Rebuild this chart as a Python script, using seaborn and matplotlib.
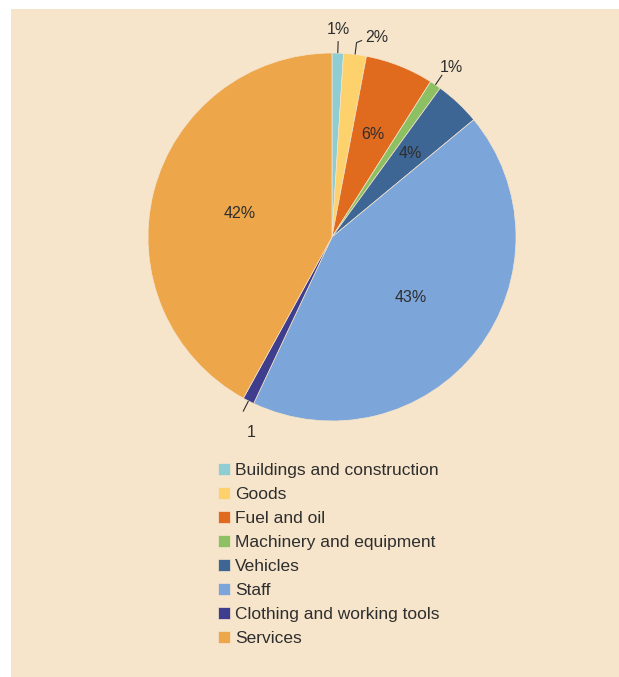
import numpy as np
import matplotlib
matplotlib.use("Agg")
import matplotlib.pyplot as plt
from matplotlib.patches import Rectangle
import seaborn as sns

# Budget shares by spending category (percent)
categories = [
    "Buildings and construction",
    "Goods",
    "Fuel and oil",
    "Machinery and equipment",
    "Vehicles",
    "Staff",
    "Clothing and working tools",
    "Services",
]
shares = [1, 2, 6, 1, 4, 43, 1, 42]
value_labels = ["1%", "2%", "6%", "1%", "4%", "43%", "1", "42%"]

# Styling
colors = ["#8ecdd4", "#fdd16b", "#e06a1e", "#8cc062", "#3e6694",
          "#7ca5d9", "#3f3e8e", "#eda64a"]
bg = "#f6e5cb"
ink = "#2e2e2e"

# Where each value label sits: radius (in pie radii), angle nudge (deg,
# clockwise), and whether a short leader line joins it to the rim
label_radius = [1.13, 1.11, 0.60, 1.13, 0.62, 0.54, 1.15, 0.52]
label_nudge = [0.0, 5.5, 0.0, 1.0, 0.0, 0.0, -4.5, 0.0]
leader = [True, True, False, True, False, False, True, False]

sns.set_theme(style="white")
plt.rcParams["font.family"] = ["Liberation Sans", "DejaVu Sans"]

W, H = 619, 677
fig = plt.figure(figsize=(W / 100, H / 100), dpi=100, facecolor="white")
fig.patches.append(Rectangle((11 / W, 0), 1 - 11 / W, 1 - 9 / H,
                             transform=fig.transFigure, facecolor=bg,
                             edgecolor="none", zorder=-10))

cx, cy, R = 332, 237, 184
ax = fig.add_axes([(cx - R) / W, 1 - (cy + R) / H, 2 * R / W, 2 * R / H])
ax.set_zorder(5)
ax.set_facecolor("none")
ax.axis("off")

wedges, _ = ax.pie(shares, colors=colors, startangle=90, counterclock=False,
                   radius=1.0,
                   wedgeprops=dict(edgecolor=bg, linewidth=0.5))
ax.set_xlim(-1, 1)
ax.set_ylim(-1, 1)
ax.set_aspect("equal")

for w, lab, r, nudge, lead in zip(wedges, value_labels, label_radius,
                                  label_nudge, leader):
    mid = np.deg2rad((w.theta1 + w.theta2) / 2)
    ang = mid - np.deg2rad(nudge)
    tx, ty = r * np.cos(ang), r * np.sin(ang)
    if lead:
        x0, y0 = np.cos(mid), np.sin(mid)
        x1, y1 = 1.065 * np.cos(mid), 1.065 * np.sin(mid)
        xs, ys = [x0, x1], [y0, y1]
        if nudge > 2:
            # small hook turning toward a label set off to the side
            xs.append(x1 + 0.03)
            ys.append(y1 + 0.012)
        ax.plot(xs, ys, color=ink, lw=0.8, clip_on=False,
                solid_capstyle="butt")
    ax.text(tx, ty, lab, ha="center", va="center", fontsize=11.5,
            color=ink, clip_on=False)

fig.legend(wedges, categories, loc="upper left",
           bbox_to_anchor=(211 / W, 1 - 456 / H), frameon=False,
           fontsize=12.5, handlelength=0.7, handleheight=0.7,
           handletextpad=0.3, labelspacing=0.51, borderaxespad=0,
           labelcolor=ink)

fig.savefig("out.png", dpi=100, facecolor="white")
